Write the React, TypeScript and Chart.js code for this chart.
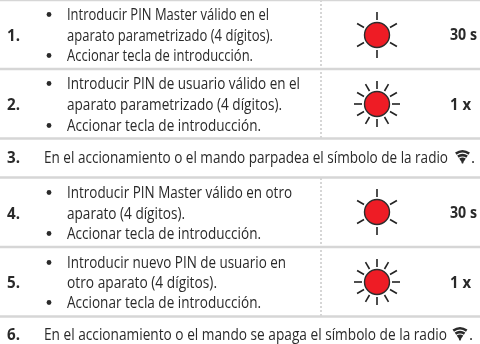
import React, { useEffect, useRef } from "react";
import { Chart, registerables } from "chart.js";

Chart.register(...registerables);

const stepNumbers = ["1.", "2.", "3.", "4.", "5.", "6."];
const stepBaselines = [41, 110, 163, 219, 288, 340];
const bulletedText = [
  "Introducir PIN Master válido en el",
  "aparato parametrizado (4 dígitos).",
  "Accionar tecla de introducción.",
  "Introducir PIN de usuario válido en el",
  "aparato parametrizado (4 dígitos).",
  "Accionar tecla de introducción.",
  "Introducir PIN Master válido en otro",
  "aparato (4 dígitos).",
  "Accionar tecla de introducción.",
  "Introducir nuevo PIN de usuario en",
  "otro aparato (4 dígitos).",
  "Accionar tecla de introducción.",
];
const bulletedBaselines = [20, 41, 61, 89, 110, 131, 198, 219, 239, 268, 288, 308];
const bulletedWidths = [202, 206, 186, 233, 215, 194, 225, 118, 194, 219, 150, 194];
const bulletedFlags = [true, false, true, true, false, true, true, false, true, true, false, true];
const fullText = [
  "En el accionamiento o el mando parpadea el símbolo de la radio",
  "En el accionamiento o el mando se apaga el símbolo de la radio",
];
const fullBaselines = [163, 340];
const fullWidths = [404, 403];
const iconCentres = [462.5, 460];
const iconDots = [471, 469];
const ledCentres = [35, 104, 212, 282];
const ledRays = [6, 12, 6, 12];
const durations = ["30 s", "1 x", "30 s", "1 x"];
const durationBaselines = [40, 110, 218, 288];
const durationWidths = [27, 21, 27, 21];
const separators = [0, 69, 138.5, 177.5, 247, 316.5];
const dividerSpans = [[0, 138], [178, 316]];

const LED_X = 377;
const BULLET_X = 49;
const INK = "#2a2a2a";
const FONT = '"Open Sans"';

function App() {
  const ref = useRef<HTMLCanvasElement>(null);
  useEffect(() => {
    document.body.style.margin = "0";
    const rayPoints: { x: number; y: number }[] = [];
    const rayRotation: number[] = [];
    ledCentres.forEach((cy, i) => {
      const n = ledRays[i];
      for (let k = 0; k < n; k++) {
        const deg = (360 / n) * k + (n === 6 ? 90 : 0);
        const a = (deg * Math.PI) / 180;
        rayPoints.push({ x: LED_X + 19 * Math.cos(a), y: cy + 19 * Math.sin(a) });
        rayRotation.push(deg);
      }
    });
    const textPlugin = {
      id: "textPlugin",
      afterDatasetsDraw(chart: any) {
        const ctx = chart.ctx as CanvasRenderingContext2D;
        const px = (v: number) => chart.scales.x.getPixelForValue(v);
        const py = (v: number) => chart.scales.y.getPixelForValue(v);
        const put = (t: string, x: number, y: number, font: string, width?: number) => {
          ctx.save();
          ctx.font = font;
          const natural = ctx.measureText(t).width;
          ctx.translate(px(x), py(y));
          ctx.scale(width ? width / natural : 1, 1);
          ctx.fillStyle = INK;
          ctx.textBaseline = "alphabetic";
          ctx.fillText(t, 0, 0);
          ctx.restore();
        };
        const body = `400 15.5px ${FONT}`;
        const bold = `700 16px ${FONT}`;
        stepNumbers.forEach((s, i) => put(s, 7, stepBaselines[i], bold, 13));
        bulletedText.forEach((t, i) => put(t, 67, bulletedBaselines[i], body, bulletedWidths[i]));
        fullText.forEach((t, i) => {
          const y = fullBaselines[i];
          put(t, 44, y, body, fullWidths[i]);
          put(".", iconDots[i], y, body);
          const cx = px(iconCentres[i]);
          const base = py(y) + 0.5;
          ctx.save();
          ctx.fillStyle = INK;
          ctx.strokeStyle = INK;
          ctx.lineWidth = 2.6;
          const spread = (34 * Math.PI) / 180;
          [12, 8.2, 4.6].forEach((r) => {
            ctx.beginPath();
            ctx.arc(cx, base, r, -Math.PI / 2 - spread, -Math.PI / 2 + spread);
            ctx.stroke();
          });
          ctx.beginPath();
          ctx.moveTo(cx - 1.8, base - 3.5);
          ctx.lineTo(cx + 1.8, base - 3.5);
          ctx.lineTo(cx + 0.6, base);
          ctx.lineTo(cx - 0.6, base);
          ctx.fill();
          ctx.restore();
        });
        durations.forEach((d, i) => put(d, 450, durationBaselines[i], bold, durationWidths[i]));
      },
    };
    const chart = new Chart(ref.current!, {
      type: "scatter",
      data: {
        datasets: [
          ...separators.map((y) => ({
            type: "line" as const,
            data: [{ x: 0, y }, { x: 480, y }],
            borderColor: "#d6d6d6",
            borderWidth: 2.4,
            pointRadius: 0,
          })),
          ...dividerSpans.map(([a, b]) => ({
            type: "line" as const,
            data: [{ x: 321, y: a }, { x: 321, y: b }],
            borderColor: "#d6d6d6",
            borderWidth: 2,
            borderDash: [2, 2],
            pointRadius: 0,
          })),
          {
            data: bulletedBaselines
              .filter((_, i) => bulletedFlags[i])
              .map((y) => ({ x: BULLET_X, y: y - 5.5 })),
            pointRadius: 2.4,
            pointBackgroundColor: INK,
            pointBorderWidth: 0,
          },
          {
            data: rayPoints,
            pointStyle: "line",
            pointRadius: 4,
            pointRotation: rayRotation,
            pointBorderColor: "#222222",
            pointBorderWidth: 1.6,
          },
          {
            data: ledCentres.map((y) => ({ x: LED_X, y })),
            pointRadius: 12.5,
            pointBackgroundColor: "#ee1c25",
            pointBorderColor: "#2c2c2c",
            pointBorderWidth: 1.4,
          },
        ],
      } as any,
      options: {
        animation: false,
        responsive: false,
        layout: { padding: 0, autoPadding: false },
        plugins: { legend: { display: false }, tooltip: { enabled: false } },
        scales: {
          x: { type: "linear", min: 0, max: 480, display: false },
          y: { type: "linear", min: 0, max: 344, reverse: true, display: false },
        },
      },
      plugins: [textPlugin],
    });
    return () => chart.destroy();
  }, []);
  return <canvas ref={ref} width={480} height={344} style={{ display: "block" }} />;
}

export default App;
